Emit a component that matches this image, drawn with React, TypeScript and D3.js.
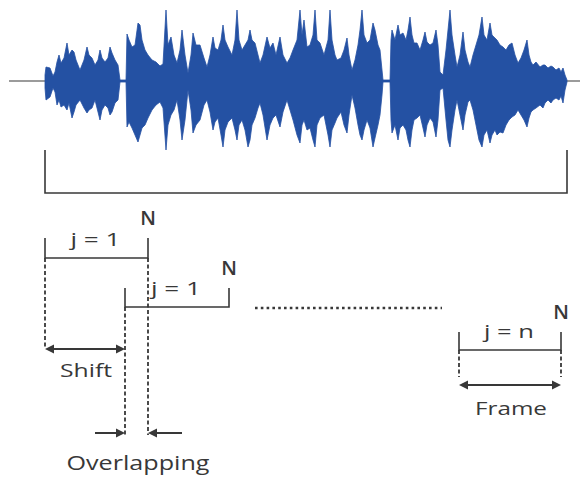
import React from 'react'
import * as d3 from 'd3'

// speech waveform envelope: sample index, upper and lower amplitude
const waveTime = [0, 1, 5, 8, 10, 12, 14, 16, 19, 22, 24, 27, 29, 31, 35, 39, 42, 44, 47, 50, 53, 55, 57, 60, 63, 65, 67, 70, 73, 75,
  81, 82, 84, 87, 90, 93, 95, 97, 100, 103, 107, 111, 115, 118, 121, 123, 126, 129, 132, 135, 137, 140, 143, 146, 148, 151, 155, 159, 162, 165,
  168, 170, 173, 176, 178, 180, 183, 187, 190, 192, 194, 197, 200, 203, 205, 207, 210, 213, 215, 218, 222, 225, 228, 231, 235, 238, 242, 245, 248, 252,
  255, 257, 259, 262, 265, 268, 270, 272, 275, 279, 283, 285, 287, 290, 292, 296, 299, 302, 304, 307, 310, 313, 315, 317, 319, 322, 325, 328, 330, 333,
  335, 337, 338, 345, 346, 347, 350, 353, 355, 358, 361, 363, 365, 367, 369, 372, 375, 378, 380, 382, 385, 388, 391, 393, 395, 398, 401, 403, 405, 407,
  410, 412, 415, 418, 420, 423, 425, 428, 431, 434, 437, 439, 442, 445, 447, 450, 452, 455, 458, 461, 464, 467, 470, 473, 476, 479, 482, 484, 486, 488,
  491, 495, 498, 500, 503, 506, 508, 511, 514, 516, 518, 520, 522]
const waveUpper = [6, 14, 13, 5, 9, 19, 26, 18, 23, 38, 26, 31, 29, 21, 11, 21, 34, 26, 23, 16, 21, 31, 23, 19, 23, 34, 28, 21, 16, 1,
  1, 47, 41, 34, 36, 58, 56, 41, 31, 26, 21, 19, 15, 17, 71, 36, 44, 26, 18, 31, 51, 26, 8, 26, 48, 36, 36, 23, 14, 26,
  44, 33, 31, 41, 56, 41, 34, 26, 41, 71, 41, 31, 36, 41, 51, 41, 38, 26, 18, 26, 44, 33, 38, 26, 44, 26, 18, 23, 31, 41,
  71, 46, 61, 34, 36, 46, 71, 41, 38, 26, 41, 71, 41, 26, 21, 23, 31, 43, 26, 11, 21, 36, 51, 71, 46, 38, 41, 58, 51, 36,
  31, 11, 1, 1, 41, 51, 41, 56, 46, 48, 41, 51, 64, 46, 38, 38, 31, 41, 49, 39, 36, 38, 51, 36, 9, 6, 31, 51, 71, 46,
  26, 14, 26, 49, 31, 19, 14, 26, 36, 46, 64, 46, 41, 58, 46, 43, 41, 36, 34, 31, 36, 38, 26, 18, 23, 31, 41, 26, 19, 16,
  19, 14, 16, 16, 13, 15, 14, 11, 13, 9, 13, 6, 1]
const waveLower = [-7, -19, -16, -7, -11, -24, -19, -26, -24, -29, -22, -37, -31, -24, -19, -27, -32, -29, -27, -19, -31, -39, -29, -24, -27, -34, -31, -22, -19, -1,
  -1, -46, -41, -47, -54, -61, -54, -47, -44, -37, -29, -24, -21, -27, -69, -44, -34, -29, -19, -39, -59, -39, -9, -29, -52, -44, -39, -24, -19, -31,
  -49, -41, -37, -54, -66, -49, -41, -37, -49, -59, -44, -39, -49, -66, -59, -44, -37, -27, -22, -34, -59, -44, -37, -34, -46, -31, -19, -29, -39, -54,
  -62, -44, -39, -49, -47, -59, -66, -44, -37, -34, -54, -66, -49, -42, -37, -31, -44, -52, -34, -14, -27, -44, -54, -59, -49, -39, -47, -66, -57, -44,
  -34, -14, -1, -1, -39, -52, -44, -59, -47, -44, -49, -59, -66, -49, -39, -37, -34, -47, -56, -44, -37, -41, -56, -39, -9, -7, -39, -59, -66, -49,
  -29, -19, -34, -49, -34, -21, -19, -29, -44, -59, -66, -54, -49, -62, -54, -49, -54, -51, -52, -44, -39, -36, -34, -29, -34, -39, -46, -37, -31, -29,
  -27, -24, -27, -22, -19, -22, -19, -17, -19, -15, -22, -9, -1]

// frames on the same sample axis
const frameLabels = ['j = 1', 'j = 1', 'j = n']
const frameStart = [0, 80, 414]
const frameEnd = [103, 184, 516]

const W = 582
const H = 477
const blue = '#2451a3'
const ink = '#383838'
const font = "'Open Sans', 'DejaVu Sans', sans-serif"

const x = d3.scaleLinear().domain([0, 522]).range([45, 567])
const y = d3.scaleLinear().domain([-80, 80]).range([161, 1])

const area = d3.area<number>()
  .x((d, i) => x(waveTime[i]))
  .y0((d, i) => y(waveLower[i]))
  .y1((d) => y(d))

// filled arrowhead pointing toward (px, py) along direction dir (+1 right, -1 left)
function head(px: number, py: number, dir: number) {
  return `M${px},${py} L${px - dir * 9},${py - 4.5} L${px - dir * 9},${py + 4.5} Z`
}

const rowY = [258, 307, 350]
const tickH = [20, 19, 18]

export default function App() {
  const f1a = x(frameStart[0]), f1b = x(frameEnd[0])
  const f2a = x(frameStart[1])
  const fna = x(frameStart[2]), fnb = x(frameEnd[2])
  const shiftY = 349
  const overY = 433
  const frameArrowY = 385

  return (
    <svg width={W} height={H} style={{ position: 'absolute', left: 0, top: 0, background: '#fff' }}>
      {/* baseline and waveform */}
      <line x1={9} x2={580} y1={y(0)} y2={y(0)} stroke={ink} strokeWidth={1.2} />
      <path d={area(waveUpper) || ''} fill={blue} stroke={blue} strokeWidth={0.8} strokeLinejoin="round" />

      {/* bracket under the whole signal */}
      <path d={`M${x(0)},150 V193 H${x(522)} V150`} fill="none" stroke={ink} strokeWidth={1.6} />

      {/* frames */}
      {frameLabels.map((lab, i) => {
        const a = x(frameStart[i]), b = x(frameEnd[i]), ry = rowY[i]
        return (
          <g key={i}>
            <path d={`M${a},${ry - tickH[i]} V${ry} H${b} V${ry - tickH[i]}`} fill="none" stroke={ink} strokeWidth={1.6} />
            <text x={(a + b) / 2 - 1} y={ry - 12} textAnchor="middle" fontFamily={font} fontSize={18} fill={ink}
              textLength={50} lengthAdjust="spacingAndGlyphs">{lab}</text>
            <text x={b} y={ry - tickH[i] - 13} textAnchor="middle" fontFamily={font} fontSize={20} fontWeight={600} fill={ink}>N</text>
          </g>
        )
      })}

      {/* dashed guides */}
      <g stroke={ink} strokeWidth={1.8} strokeDasharray="4,2.5">
        <line x1={f1a} x2={f1a} y1={rowY[0]} y2={shiftY} />
        <line x1={f1b} x2={f1b} y1={rowY[0]} y2={overY + 2} />
        <line x1={f2a} x2={f2a} y1={rowY[1]} y2={overY + 2} />
        <line x1={fna} x2={fna} y1={rowY[2]} y2={377} />
        <line x1={fnb} x2={fnb} y1={rowY[2]} y2={377} />
      </g>

      {/* dotted continuation */}
      <line x1={255} x2={442} y1={308} y2={308} stroke={ink} strokeWidth={2.6} strokeDasharray="2.6,3.2" />

      {/* shift arrow */}
      <line x1={f1a + 6} x2={f2a - 6} y1={shiftY} y2={shiftY} stroke={ink} strokeWidth={2} />
      <path d={head(f1a, shiftY, -1)} fill={ink} />
      <path d={head(f2a, shiftY, 1)} fill={ink} />
      <text x={86} y={377} textAnchor="middle" fontFamily={font} fontSize={19} fill={ink}
        textLength={52} lengthAdjust="spacingAndGlyphs">Shift</text>

      {/* overlapping arrows */}
      <line x1={95} x2={f2a - 6} y1={overY} y2={overY} stroke={ink} strokeWidth={2} />
      <path d={head(f2a, overY, 1)} fill={ink} />
      <line x1={182} x2={f1b + 6} y1={overY} y2={overY} stroke={ink} strokeWidth={2} />
      <path d={head(f1b, overY, -1)} fill={ink} />
      <text x={138} y={470} textAnchor="middle" fontFamily={font} fontSize={20} fill={ink}
        textLength={143} lengthAdjust="spacingAndGlyphs">Overlapping</text>

      {/* frame length arrow */}
      <line x1={fna + 6} x2={fnb - 6} y1={frameArrowY} y2={frameArrowY} stroke={ink} strokeWidth={2} />
      <path d={head(fna, frameArrowY, -1)} fill={ink} />
      <path d={head(fnb, frameArrowY, 1)} fill={ink} />
      <text x={511} y={415} textAnchor="middle" fontFamily={font} fontSize={19} fill={ink}
        textLength={72} lengthAdjust="spacingAndGlyphs">Frame</text>
    </svg>
  )
}
